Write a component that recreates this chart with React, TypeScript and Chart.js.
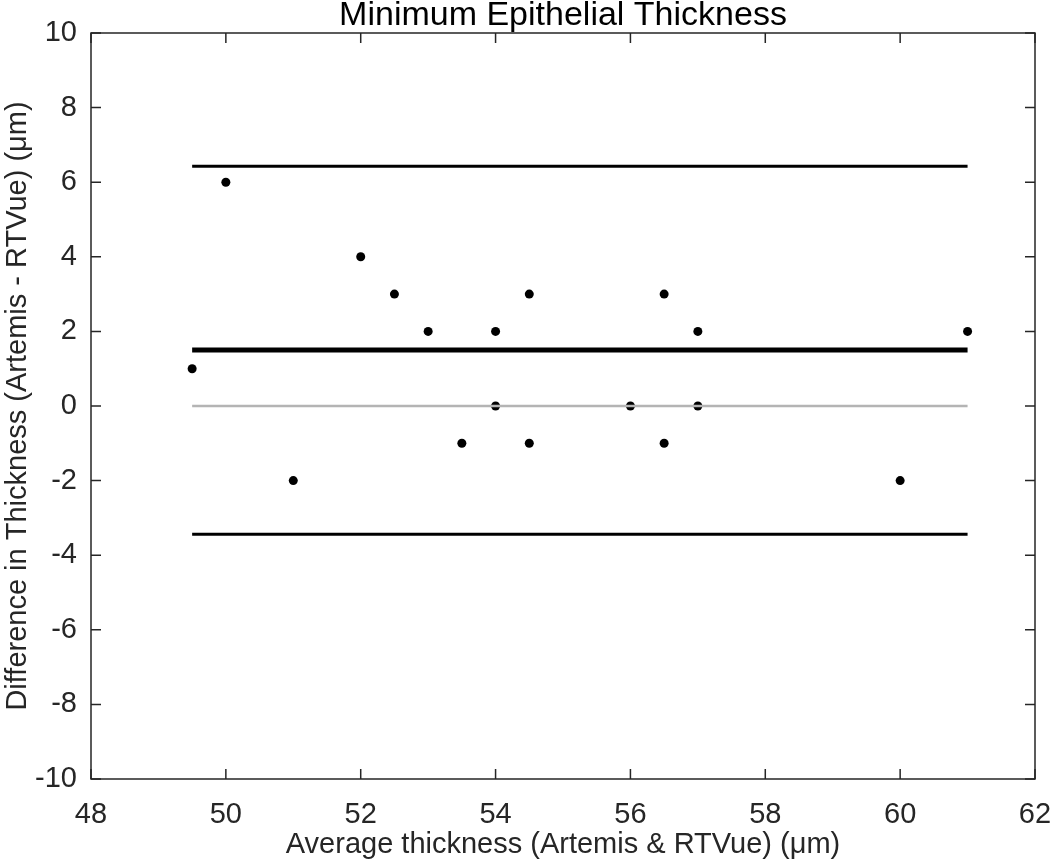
import React, { useEffect, useRef } from "react";
import { Chart, registerables } from "chart.js";

Chart.register(...registerables);

const titleText = "Minimum Epithelial Thickness";
const xTitle = "Average thickness (Artemis & RTVue) (\u03BCm)";
const yTitle = "Difference in Thickness (Artemis - RTVue) (\u03BCm)";

const averageThickness = [49.5, 50, 51, 52, 52.5, 53, 53.5, 54, 54, 54.5, 54.5, 56, 56.5, 56.5, 57, 57, 60, 61];
const thicknessDiff = [1, 6, -2, 4, 3, 2, -1, 2, 0, 3, -1, 0, 3, -1, 2, 0, -2, 2];

const lineRange = [49.5, 61];
const meanDiff = 1.5;
const upperLimit = 6.43;
const lowerLimit = -3.44;
const zeroLevel = 0;

const xMin = 48, xMax = 62, xStep = 2;
const yMin = -10, yMax = 10, yStep = 2;

const FONT = "'Liberation Sans', Arial, Helvetica, sans-serif";
const AXIS_COLOR = "#262626";

const boxTicksPlugin = {
  id: "boxTicks",
  afterDatasetsDraw(chart: any) {
    const { ctx, chartArea } = chart;
    const { left, right, top, bottom } = chartArea;
    const xs = chart.scales.x;
    const ys = chart.scales.y;
    const len = 10;
    ctx.save();
    ctx.strokeStyle = AXIS_COLOR;
    ctx.lineWidth = 1.5;
    ctx.beginPath();
    xs.ticks.forEach((t: any) => {
      const px = xs.getPixelForValue(t.value);
      ctx.moveTo(px, bottom);
      ctx.lineTo(px, bottom - len);
      ctx.moveTo(px, top);
      ctx.lineTo(px, top + len);
    });
    ys.ticks.forEach((t: any) => {
      const py = ys.getPixelForValue(t.value);
      ctx.moveTo(left, py);
      ctx.lineTo(left + len, py);
      ctx.moveTo(right, py);
      ctx.lineTo(right - len, py);
    });
    ctx.stroke();
    ctx.beginPath();
    ctx.rect(left, top, right - left, bottom - top);
    ctx.stroke();
    ctx.restore();
  },
};

function hLine(y: number) {
  return lineRange.map((x) => ({ x, y }));
}

export default function App() {
  const canvasRef = useRef<HTMLCanvasElement | null>(null);

  useEffect(() => {
    if (!canvasRef.current) return;
    const points = averageThickness.map((x, i) => ({ x, y: thicknessDiff[i] }));
    const chart = new Chart(canvasRef.current, {
      type: "scatter",
      data: {
        datasets: [
          {
            label: "Zero",
            data: hLine(zeroLevel),
            showLine: true,
            borderColor: "#b4b4b4",
            borderWidth: 2.5,
            pointRadius: 0,
          },
          {
            label: "Upper limit",
            data: hLine(upperLimit),
            showLine: true,
            borderColor: "#000000",
            borderWidth: 3,
            pointRadius: 0,
          },
          {
            label: "Mean",
            data: hLine(meanDiff),
            showLine: true,
            borderColor: "#000000",
            borderWidth: 5,
            pointRadius: 0,
          },
          {
            label: "Lower limit",
            data: hLine(lowerLimit),
            showLine: true,
            borderColor: "#000000",
            borderWidth: 3,
            pointRadius: 0,
          },
          {
            label: "Differences",
            data: points,
            backgroundColor: "#000000",
            borderColor: "#000000",
            pointRadius: 4.5,
            pointBorderWidth: 0,
          },
        ],
      } as any,
      options: {
        animation: false,
        responsive: false,
        maintainAspectRatio: false,
        layout: { padding: { left: 0, right: 0, top: 0, bottom: 0 } },
        plugins: {
          legend: { display: false },
          tooltip: { enabled: false },
          title: {
            display: true,
            text: titleText,
            fullSize: false,
            color: "#000000",
            font: { family: FONT, size: 34, weight: "normal", lineHeight: 31 / 34 },
            padding: { top: 0, bottom: 2 },
          },
        },
        scales: {
          x: {
            type: "linear",
            min: xMin,
            max: xMax,
            grid: { display: false, drawTicks: false },
            border: { display: false },
            ticks: {
              stepSize: xStep,
              padding: 19,
              color: AXIS_COLOR,
              font: { family: FONT, size: 29 },
              maxRotation: 0,
            },
            title: {
              display: true,
              text: xTitle,
              color: AXIS_COLOR,
              font: { family: FONT, size: 29 },
              padding: { top: 0, bottom: 3 },
            },
            afterFit: (s: any) => {
              s.height = 86;
              s.paddingRight = 15;
              s.paddingLeft = 0;
            },
          },
          y: {
            type: "linear",
            min: yMin,
            max: yMax,
            grid: { display: false, drawTicks: false },
            border: { display: false },
            ticks: {
              stepSize: yStep,
              padding: 14,
              color: AXIS_COLOR,
              font: { family: FONT, size: 29 },
            },
            title: {
              display: true,
              text: yTitle,
              color: AXIS_COLOR,
              font: { family: FONT, size: 29 },
              padding: { top: 1, bottom: 0 },
            },
            afterFit: (s: any) => {
              s.width = 91;
            },
          },
        },
      } as any,
      plugins: [boxTicksPlugin],
    });
    return () => chart.destroy();
  }, []);

  return (
    <div style={{ position: "fixed", left: 0, top: 0, width: 1050, height: 865, background: "#ffffff" }}>
      <canvas ref={canvasRef} width={1050} height={865} style={{ display: "block" }} />
    </div>
  );
}
